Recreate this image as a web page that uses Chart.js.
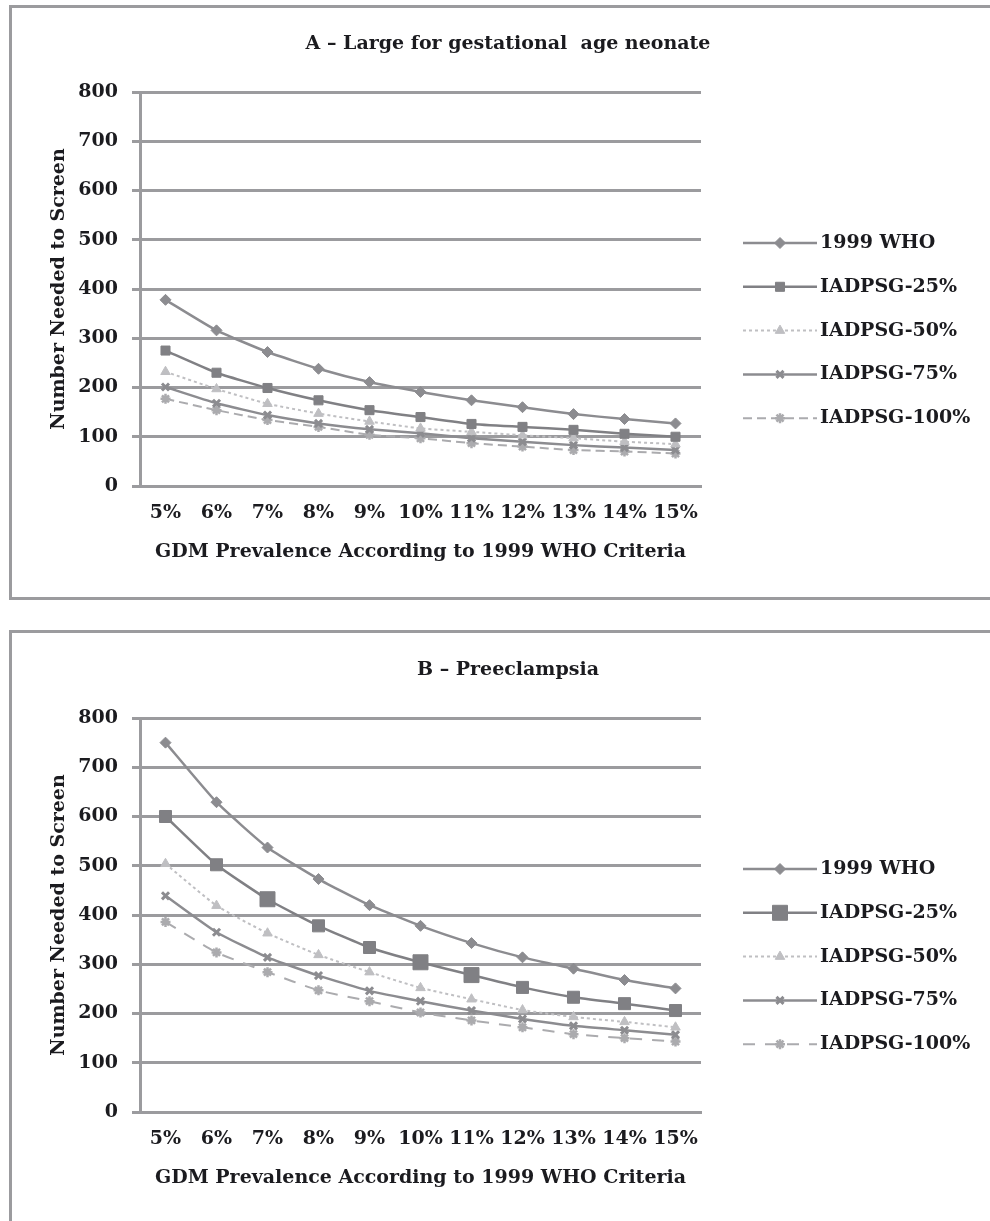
<!DOCTYPE html>
<html>
<head>
<meta charset="utf-8">
<script src="https://cdn.jsdelivr.net/npm/chart.js@4.4.1/dist/chart.umd.min.js"></script>
<style>
  html, body { margin: 0; padding: 0; background: #fff; overflow: hidden; width: 990px; height: 1221px; }
  .panel { position: absolute; left: 9px; width: 1100px; height: 595px; border: 3px solid #9b9b9e; box-sizing: border-box; }
  #panelA { top: 5px; }
  #panelB { top: 630px; }
  canvas { position: absolute; left: 0; }
  #chartA { top: 0; }
  #chartB { top: 626px; }
</style>
</head>
<body>
<div class="panel" id="panelA"></div>
<div class="panel" id="panelB"></div>
<canvas id="chartA" width="1016" height="600"></canvas>
<canvas id="chartB" width="1016" height="600"></canvas>
<script>
// GDM prevalence under the 1999 WHO criteria (x categories)
const prevalence = ['5%', '6%', '7%', '8%', '9%', '10%', '11%', '12%', '13%', '14%', '15%'];
const seriesNames = ['1999 WHO', 'IADPSG-25%', 'IADPSG-50%', 'IADPSG-75%', 'IADPSG-100%'];
const yMax = 800;
const yStep = 100;

// A – Large for gestational age neonate: number needed to screen
const lgaWho    = [378, 316, 272, 238, 211, 191, 174, 160, 146, 136, 127];
const lgaIad25  = [275, 230, 199, 174, 154, 140, 126, 120, 114, 106, 100];
const lgaIad50  = [232, 197, 167, 147, 131, 117, 110, 103,  97,  90,  85];
const lgaIad75  = [201, 168, 144, 127, 115, 107,  97,  90,  83,  78,  73];
const lgaIad100 = [177, 154, 134, 120, 104,  97,  87,  80,  73,  70,  66];

// B – Preeclampsia: number needed to screen
const peWho    = [750, 629, 537, 473, 420, 378, 343, 314, 291, 268, 251];
const peIad25  = [600, 502, 432, 378, 334, 304, 278, 253, 233, 220, 206];
const peIad50  = [504, 419, 363, 319, 284, 252, 229, 207, 193, 183, 172];
const peIad75  = [439, 365, 314, 277, 246, 225, 206, 189, 175, 166, 157];
const peIad100 = [386, 324, 284, 247, 225, 202, 186, 172, 158, 150, 143];

const FONT = '"DejaVu Serif", "Liberation Serif", serif';
const INK = '#1b1b1f';
const RULE = '#9b9b9e';

// Line + marker key drawn to the right of the plot
const seriesKey = {
  id: 'seriesKey',
  afterDraw(chart, args, o) {
    const ctx = chart.ctx;
    chart.data.datasets.forEach((ds, i) => {
      const y = o.top + i * o.gap;
      const x0 = o.left, x1 = o.left + o.length, xm = (x0 + x1) / 2;
      ctx.save();
      ctx.strokeStyle = ds.borderColor;
      ctx.lineWidth = ds.borderWidth;
      ctx.setLineDash(ds.keyDash || ds.borderDash || []);
      ctx.beginPath();
      ctx.moveTo(x0, y);
      ctx.lineTo(x1, y);
      ctx.stroke();
      ctx.setLineDash([]);
      ctx.fillStyle = ds.pointBackgroundColor;
      ctx.strokeStyle = ds.pointBorderColor;
      ctx.lineWidth = ds.pointBorderWidth;
      Chart.helpers.drawPoint(ctx, {
        pointStyle: ds.pointStyle, rotation: 0,
        radius: ds.keyRadius, borderWidth: ds.pointBorderWidth
      }, xm, y);
      ctx.fillStyle = o.color;
      ctx.font = o.font;
      ctx.textAlign = 'left';
      ctx.textBaseline = 'middle';
      ctx.fillText(ds.label, x1 + o.textGap, y);
      ctx.restore();
    });
  }
};

function buildDatasets(values, look) {
  const base = [
    { color: '#8c8c90', width: 2.5, dash: [], style: 'rectRot', radius: 5.5, pbw: 1 },
    { color: '#808084', width: 2.5, dash: [], style: 'rect', radius: look.squareRadius, pbw: 1 },
    { color: '#bfbfc2', width: 2, dash: [3, 3], style: 'triangle', radius: 5.5, pbw: 1 },
    { color: '#8c8c90', width: 2.5, dash: [], style: 'crossRot', radius: 5, pbw: 3 },
    { color: '#ababae', width: 2, dash: look.longDash, style: 'star', radius: 5, pbw: 2.5 }
  ];
  return values.map((v, i) => {
    const b = base[i];
    return {
      label: seriesNames[i],
      data: v,
      borderColor: b.color,
      borderWidth: b.width,
      borderDash: b.dash,
      pointStyle: b.style,
      pointRadius: b.radius,
      pointHoverRadius: b.radius,
      pointBackgroundColor: b.color,
      pointBorderColor: b.color,
      pointBorderWidth: b.pbw,
      keyRadius: typeof b.radius === 'function' ? look.keySquare : b.radius,
      tension: 0.15,
      fill: false
    };
  });
}

function makeChart(id, title, values, look) {
  const tickFont = { family: FONT, size: 19, weight: 'bold' };
  return new Chart(document.getElementById(id), {
    type: 'line',
    data: { labels: prevalence, datasets: buildDatasets(values, look) },
    plugins: [seriesKey],
    options: {
      responsive: false,
      animation: false,
      layout: { padding: { top: 0, left: 0, right: 0, bottom: 24 } },
      plugins: {
        legend: { display: false },
        tooltip: { enabled: false },
        title: {
          display: true,
          text: title,
          color: INK,
          font: { family: FONT, size: 19, weight: 'bold' },
          padding: { top: 32.6, bottom: 36.6 }
        },
        seriesKey: {
          left: 743, top: 243, gap: 43.8, length: 74, textGap: 3,
          color: INK, font: 'bold 19px ' + FONT
        }
      },
      scales: {
        x: {
          type: 'category',
          offset: true,
          grid: { display: false, drawTicks: false },
          border: { display: true, color: RULE, width: 3 },
          ticks: { color: INK, font: tickFont, padding: 15.6, autoSkip: false, maxRotation: 0, minRotation: 0 },
          title: {
            display: true,
            text: 'GDM Prevalence According to 1999 WHO Criteria',
            color: INK,
            font: { family: FONT, size: 19, weight: 'bold' },
            padding: { top: 0, bottom: 12.6 }
          },
          afterFit(s) { s.height = 90; }
        },
        y: {
          position: 'left',
          min: 0,
          max: yMax,
          ticks: { stepSize: yStep, color: INK, font: tickFont, padding: 14 },
          grid: { color: RULE, lineWidth: 3, tickLength: 8, drawTicks: true },
          border: { display: true, color: RULE, width: 3 },
          title: {
            display: true,
            text: 'Number Needed to Screen',
            color: INK,
            font: { family: FONT, size: 19, weight: 'bold' },
            padding: { top: 47.6, bottom: 0 }
          },
          afterFit(s) { s.width = 140; }
        },
        keySpace: {
          position: 'right',
          display: true,
          grid: { display: false, drawTicks: false },
          border: { display: false },
          ticks: { display: false },
          afterFit(s) { s.width = 315; }
        }
      }
    }
  });
}

makeChart('chartA', 'A \u2013 Large for gestational  age neonate',
  [lgaWho, lgaIad25, lgaIad50, lgaIad75, lgaIad100],
  { squareRadius: 6.4, keySquare: 7, longDash: [9, 5] });

makeChart('chartB', 'B \u2013 Preeclampsia',
  [peWho, peIad25, peIad50, peIad75, peIad100],
  { squareRadius: (c) => [2, 5, 6].includes(c.dataIndex) ? 10.6 : 8.5, keySquare: 10.6, longDash: [12, 10] });
</script>
</body>
</html>
